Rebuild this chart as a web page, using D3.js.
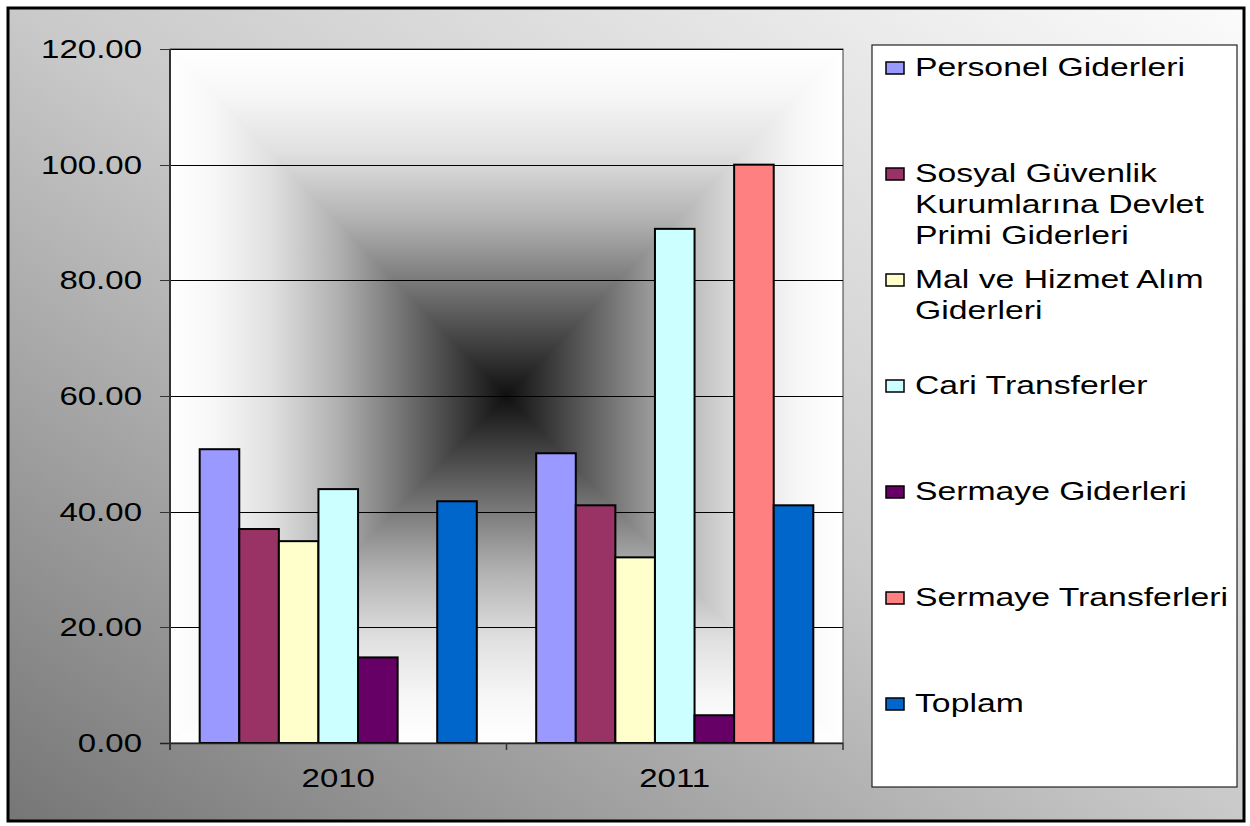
<!DOCTYPE html>
<html>
<head>
<meta charset="utf-8">
<script src="https://cdn.jsdelivr.net/npm/d3@7"></script>
<style>
  html, body { margin: 0; padding: 0; background: #ffffff; }
  svg { display: block; }
  text { font-family: "Liberation Sans", Arial, sans-serif; fill: #000; }
</style>
</head>
<body>
<svg id="chart" width="1250" height="826"></svg>
<script>
// ---- data ----
const categories = ["2010", "2011"];
const seriesNames = [
  "Personel Giderleri",
  "Sosyal Güvenlik Kurumlarına Devlet Primi Giderleri",
  "Mal ve Hizmet Alım Giderleri",
  "Cari Transferler",
  "Sermaye Giderleri",
  "Sermaye Transferleri",
  "Toplam"
];
const values2010 = [50.8, 37.0, 34.9, 43.9, 14.8, 0, 41.8];
const values2011 = [50.1, 41.1, 32.1, 88.9, 4.8, 100.0, 41.1];
const seriesColors = ["#9999FF", "#993366", "#FFFFCC", "#CCFFFF", "#660066", "#FF8080", "#0066CC"];
const yTicks = [0, 20, 40, 60, 80, 100, 120];

const valuesByCategory = { "2010": values2010, "2011": values2011 };

// ---- layout ----
const plot = { x0: 170, x1: 843, y0: 49, y1: 743 };
const SX = 1.32;           // horizontal stretch of axis text seen in the reference
const SXL = 1.35;          // horizontal stretch of legend text
const FS = 25;             // font size

const svg = d3.select("#chart");
const defs = svg.append("defs");

// outer background gradient
const bg = defs.append("linearGradient").attr("id", "bgGrad")
  .attr("x1", 0).attr("y1", 1).attr("x2", 1).attr("y2", 0);
bg.append("stop").attr("offset", 0).attr("stop-color", "#767676");
bg.append("stop").attr("offset", 0.5).attr("stop-color", "#c9c9c9");
bg.append("stop").attr("offset", 1).attr("stop-color", "#fbfbfb");

svg.append("rect")
  .attr("x", 8).attr("y", 8).attr("width", 1236).attr("height", 813)
  .attr("fill", "url(#bgGrad)").attr("stroke", "#000").attr("stroke-width", 3);

// plot-area rectangular "from center" gradient built from 4 triangles
const cx = (plot.x0 + plot.x1) / 2, cy = (plot.y0 + plot.y1) / 2;
const gStops = [[0, "#101010"], [0.25, "#606060"], [0.5, "#b0b0b0"], [0.7, "#e0e0e0"], [0.87, "#f7f7f7"], [1, "#ffffff"]];
const tris = [
  { id: "gTop", pts: [[plot.x0, plot.y0], [plot.x1, plot.y0], [cx, cy]], to: [cx, plot.y0] },
  { id: "gBot", pts: [[plot.x0, plot.y1], [plot.x1, plot.y1], [cx, cy]], to: [cx, plot.y1] },
  { id: "gLeft", pts: [[plot.x0, plot.y0], [plot.x0, plot.y1], [cx, cy]], to: [plot.x0, cy] },
  { id: "gRight", pts: [[plot.x1, plot.y0], [plot.x1, plot.y1], [cx, cy]], to: [plot.x1, cy] }
];
tris.forEach(t => {
  const lgr = defs.append("linearGradient").attr("id", t.id)
    .attr("gradientUnits", "userSpaceOnUse")
    .attr("x1", cx).attr("y1", cy).attr("x2", t.to[0]).attr("y2", t.to[1]);
  gStops.forEach(s => lgr.append("stop").attr("offset", s[0]).attr("stop-color", s[1]));
});
const clip = defs.append("clipPath").attr("id", "plotClip");
clip.append("rect").attr("x", plot.x0).attr("y", plot.y0)
  .attr("width", plot.x1 - plot.x0).attr("height", plot.y1 - plot.y0);

const bgG = svg.append("g").attr("clip-path", "url(#plotClip)");
tris.forEach(t => {
  bgG.append("polygon")
    .attr("points", t.pts.map(p => p.join(",")).join(" "))
    .attr("fill", `url(#${t.id})`)
    .attr("stroke", `url(#${t.id})`).attr("stroke-width", 1.2);
});
svg.append("rect").attr("x", plot.x0).attr("y", plot.y0)
  .attr("width", plot.x1 - plot.x0).attr("height", plot.y1 - plot.y0)
  .attr("fill", "none").attr("stroke", "#3a3a3a").attr("stroke-width", 1);

// ---- scales ----
const x = d3.scaleBand().domain(categories).range([plot.x0, plot.x1]).padding(0);
const xs = d3.scaleBand().domain(seriesNames).range([0, x.bandwidth()])
  .paddingInner(0).paddingOuter(0.75);
const y = d3.scaleLinear().domain([0, 120]).range([plot.y1, plot.y0]);

// gridlines
svg.append("g").selectAll("line").data(yTicks.filter(v => v > 0)).join("line")
  .attr("x1", plot.x0).attr("x2", plot.x1)
  .attr("y1", d => Math.round(y(d)) + 0.5).attr("y2", d => Math.round(y(d)) + 0.5)
  .attr("stroke", "#000").attr("stroke-width", 1);

// bars
const barData = [];
categories.forEach(c => valuesByCategory[c].forEach((v, i) => {
  if (v > 0) barData.push({ cat: c, series: seriesNames[i], value: v, color: seriesColors[i] });
}));
svg.append("g").selectAll("rect").data(barData).join("rect")
  .attr("x", d => x(d.cat) + xs(d.series))
  .attr("y", d => y(d.value))
  .attr("width", xs.bandwidth())
  .attr("height", d => y(0) - y(d.value))
  .attr("fill", d => d.color)
  .attr("stroke", "#000").attr("stroke-width", 2);

// y axis
const yAxisG = svg.append("g");
yAxisG.append("line").attr("x1", plot.x0).attr("x2", plot.x0)
  .attr("y1", plot.y0).attr("y2", plot.y1 + 7)
  .attr("stroke", "#333").attr("stroke-width", 2);
yAxisG.selectAll("line.tick").data(yTicks).join("line").attr("class", "tick")
  .attr("x1", 160).attr("x2", plot.x0)
  .attr("y1", d => Math.round(y(d)) + 0.5).attr("y2", d => Math.round(y(d)) + 0.5)
  .attr("stroke", "#333").attr("stroke-width", 1);
yAxisG.selectAll("text").data(yTicks).join("text")
  .attr("transform", d => `translate(142,${y(d) + 9}) scale(${SX},1)`)
  .attr("text-anchor", "end").attr("font-size", FS)
  .text(d => d3.format(".2f")(d));

// x axis
const xAxisG = svg.append("g");
xAxisG.append("line").attr("x1", plot.x0 - 10).attr("x2", plot.x1)
  .attr("y1", plot.y1 + 0.5).attr("y2", plot.y1 + 0.5)
  .attr("stroke", "#222").attr("stroke-width", 1.5);
const catBounds = categories.map(c => x(c)).concat([plot.x1]);
xAxisG.selectAll("line.tick").data(catBounds).join("line").attr("class", "tick")
  .attr("x1", d => d).attr("x2", d => d)
  .attr("y1", plot.y1).attr("y2", plot.y1 + 7)
  .attr("stroke", "#333").attr("stroke-width", 1.5);
xAxisG.selectAll("text").data(categories).join("text")
  .attr("transform", d => `translate(${x(d) + x.bandwidth() / 2},787) scale(${SX},1)`)
  .attr("text-anchor", "middle").attr("font-size", FS)
  .text(d => d);

// ---- legend ----
const lg = svg.append("g");
lg.append("rect").attr("x", 872).attr("y", 45).attr("width", 365).attr("height", 742)
  .attr("fill", "#fff").attr("stroke", "#222").attr("stroke-width", 1.2);
const ly = d3.scalePoint().domain(seriesNames).range([68, 704]);
const maxTextW = 318 / SXL;

// measure helper for wrapping
const meas = svg.append("text").attr("font-size", FS).attr("visibility", "hidden");
function wrap(str) {
  const words = str.split(" ");
  const lines = [];
  let cur = "";
  words.forEach(w => {
    const test = cur ? cur + " " + w : w;
    meas.text(test);
    if (meas.node().getComputedTextLength() > maxTextW && cur) {
      lines.push(cur); cur = w;
    } else cur = test;
  });
  if (cur) lines.push(cur);
  return lines;
}

seriesNames.forEach((name, i) => {
  const cyL = ly(name);
  lg.append("rect").attr("x", 886).attr("y", cyL - 6).attr("width", 18).attr("height", 12)
    .attr("fill", seriesColors[i]).attr("stroke", "#000").attr("stroke-width", 1.5);
  const lines = wrap(name);
  lines.forEach((ln, k) => {
    lg.append("text")
      .attr("transform", `translate(915,${cyL + 7.5 + k * 31}) scale(${SXL},1)`)
      .attr("font-size", FS).text(ln);
  });
});
meas.remove();
</script>
</body>
</html>
